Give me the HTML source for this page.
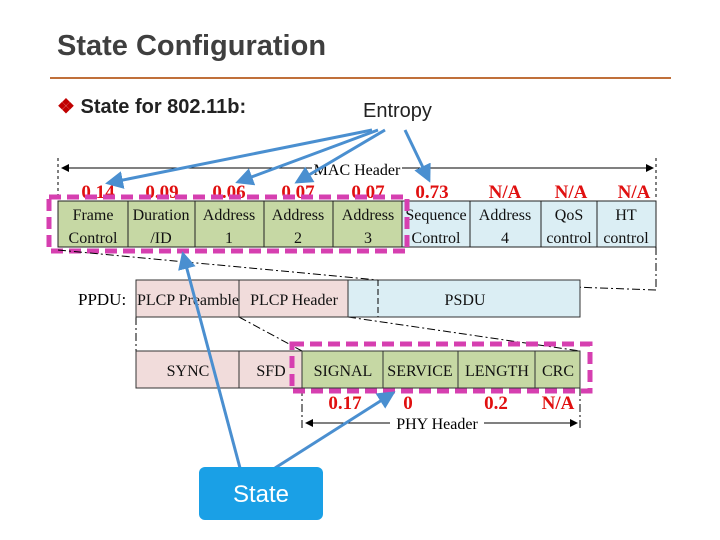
<!DOCTYPE html>
<html><head><style>
body{margin:0;width:720px;height:540px;background:#fff;position:relative;overflow:hidden;font-family:"Liberation Serif",serif}
.t{position:absolute;white-space:nowrap}
</style></head><body>
<div class="t" style="left:57px;top:30px;font:bold 29px 'Liberation Sans',sans-serif;color:#3f3f3f">State Configuration</div>
<div style="position:absolute;left:50px;top:77px;width:621px;height:2px;background:#c0703a"></div>
<div class="t" style="left:57px;top:94px;font:bold 20px 'Liberation Sans',sans-serif;color:#222"><span style="color:#c00000">❖</span> State for 802.11b:</div>
<div class="t" style="left:363px;top:100px;font:20px 'Liberation Sans',sans-serif;color:#222">Entropy</div>
<svg width="720" height="540" style="position:absolute;left:0;top:0" font-family="Liberation Serif, serif">
<defs>
<marker id="a" markerWidth="8" markerHeight="8" refX="7" refY="4" orient="auto"><path d="M0,0 L8,4 L0,8z" fill="#000"/></marker>
<marker id="b" markerWidth="6" markerHeight="6" refX="5" refY="3" orient="auto"><path d="M0,0 L6,3 L0,6z" fill="#4a8fd0"/></marker>
</defs>
<!-- MAC header arrow -->
<line x1="58" y1="158" x2="58" y2="200" stroke="#000" stroke-dasharray="3,3"/>
<line x1="656" y1="158" x2="656" y2="200" stroke="#000" stroke-dasharray="3,3"/>
<line x1="312" y1="168" x2="62" y2="168" stroke="#000" marker-end="url(#a)"/>
<line x1="402" y1="168" x2="653" y2="168" stroke="#000" marker-end="url(#a)"/>
<text x="357" y="175" font-size="16" text-anchor="middle">MAC Header</text>
<!-- MAC cells -->
<g stroke="#222" stroke-width="1" font-size="16" text-anchor="middle">
<rect x="58" y="201" width="70" height="46" fill="#c6d8a4"/>
<rect x="128" y="201" width="67" height="46" fill="#c6d8a4"/>
<rect x="195" y="201" width="69" height="46" fill="#c6d8a4"/>
<rect x="264" y="201" width="69" height="46" fill="#c6d8a4"/>
<rect x="333" y="201" width="69" height="46" fill="#c6d8a4"/>
<rect x="402" y="201" width="68" height="46" fill="#dbeef4"/>
<rect x="470" y="201" width="71" height="46" fill="#dbeef4"/>
<rect x="541" y="201" width="56" height="46" fill="#dbeef4"/>
<rect x="597" y="201" width="59" height="46" fill="#dbeef4"/>
</g>
<g font-size="16" text-anchor="middle" fill="#111">
<text x="93" y="220">Frame</text><text x="93" y="243">Control</text>
<text x="161" y="220">Duration</text><text x="161" y="243">/ID</text>
<text x="229" y="220">Address</text><text x="229" y="243">1</text>
<text x="298" y="220">Address</text><text x="298" y="243">2</text>
<text x="368" y="220">Address</text><text x="368" y="243">3</text>
<text x="436" y="220">Sequence</text><text x="436" y="243">Control</text>
<text x="505" y="220">Address</text><text x="505" y="243">4</text>
<text x="569" y="220">QoS</text><text x="569" y="243">control</text>
<text x="626" y="220">HT</text><text x="626" y="243">control</text>
</g>
<g font-size="19" font-weight="bold" fill="#e01010" text-anchor="middle">
<text x="98" y="198">0.14</text><text x="162" y="198">0.09</text><text x="229" y="198">0.06</text>
<text x="298" y="198">0.07</text><text x="368" y="198">0.07</text><text x="432" y="198">0.73</text>
<text x="505" y="198">N/A</text><text x="571" y="198">N/A</text><text x="634" y="198">N/A</text>
</g>
<rect x="49" y="197" width="358" height="54" fill="none" stroke="#d63fb0" stroke-width="5" stroke-dasharray="12,6"/>
<!-- dash-dot lines -->
<g stroke="#000" stroke-dasharray="8,3,2,3" fill="none">
<line x1="58" y1="250" x2="378" y2="280"/>
<line x1="656" y1="290" x2="378" y2="280"/>
<line x1="656" y1="247" x2="656" y2="290"/>
<line x1="136" y1="317" x2="136" y2="351"/>
<line x1="239" y1="317" x2="302" y2="351"/>
<line x1="348" y1="317" x2="580" y2="351"/>
<line x1="378" y1="280" x2="378" y2="317"/>
<line x1="302" y1="388" x2="302" y2="428"/>
<line x1="580" y1="388" x2="580" y2="428"/>
</g>
<!-- PPDU -->
<text x="78" y="305" font-size="17">PPDU:</text>
<g stroke="#333" font-size="16" text-anchor="middle">
<rect x="136" y="280" width="103" height="37" fill="#f1dcdb"/>
<rect x="239" y="280" width="109" height="37" fill="#f1dcdb"/>
<rect x="348" y="280" width="232" height="37" fill="#dbeef4"/>
<rect x="136" y="351" width="103" height="37" fill="#f1dcdb"/>
<rect x="239" y="351" width="63" height="37" fill="#f1dcdb"/>
<rect x="302" y="351" width="81" height="37" fill="#c6d8a4"/>
<rect x="383" y="351" width="75" height="37" fill="#c6d8a4"/>
<rect x="458" y="351" width="77" height="37" fill="#c6d8a4"/>
<rect x="535" y="351" width="45" height="37" fill="#c6d8a4"/>
</g>
<line x1="378" y1="280" x2="378" y2="317" stroke="#000" stroke-dasharray="6,3"/>
<g font-size="16" text-anchor="middle" fill="#111">
<text x="188" y="305">PLCP Preamble</text><text x="294" y="305">PLCP Header</text><text x="465" y="305">PSDU</text>
<text x="188" y="376">SYNC</text><text x="271" y="376">SFD</text><text x="343" y="376">SIGNAL</text>
<text x="420" y="376">SERVICE</text><text x="497" y="376">LENGTH</text><text x="558" y="376">CRC</text>
</g>
<rect x="292" y="344" width="298" height="47" fill="none" stroke="#d63fb0" stroke-width="5" stroke-dasharray="12,6"/>
<g font-size="19" font-weight="bold" fill="#e01010" text-anchor="middle">
<text x="345" y="409">0.17</text><text x="408" y="409">0</text><text x="496" y="409">0.2</text><text x="558" y="409">N/A</text>
</g>
<line x1="390" y1="423" x2="306" y2="423" stroke="#000" marker-end="url(#a)"/>
<line x1="484" y1="423" x2="577" y2="423" stroke="#000" marker-end="url(#a)"/>
<text x="437" y="429" font-size="16" text-anchor="middle">PHY Header</text>
<!-- blue arrows -->
<g stroke="#4a8fd0" stroke-width="3" fill="none" marker-end="url(#b)">
<line x1="372" y1="130" x2="108" y2="183"/>
<line x1="378" y1="130" x2="238" y2="182"/>
<line x1="385" y1="130" x2="297" y2="182"/>
<line x1="405" y1="130" x2="429" y2="180"/>
<line x1="240" y1="468" x2="183" y2="254"/>
<line x1="275" y1="468" x2="393" y2="393"/>
</g>
<rect x="199" y="467" width="124" height="53" rx="6" fill="#1aa0e6"/>
<text x="261" y="502" font-size="24" fill="#fff" text-anchor="middle" font-family="Liberation Sans, sans-serif">State</text>
</svg>
</body></html>
